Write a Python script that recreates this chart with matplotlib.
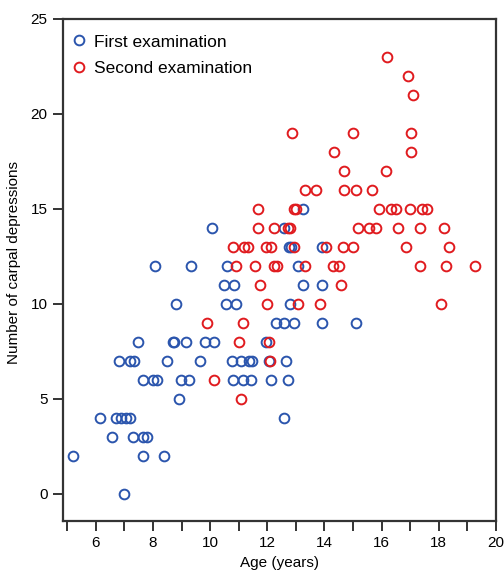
import matplotlib
matplotlib.use("Agg")
from matplotlib import pyplot as plt
from matplotlib.ticker import MultipleLocator, FuncFormatter

plt.rcParams['font.family'] = ['Liberation Sans', 'DejaVu Sans']

# first examination (age in years, number of carpal depressions)
first_age = [5.2, 6.14, 6.55, 6.72, 6.81, 6.88, 6.98, 7.04, 7.19, 7.2, 7.3, 7.33, 7.49,
             7.65, 7.65, 7.66, 7.78, 8.0, 8.07, 8.15, 8.4, 8.49, 8.69, 8.74, 8.8, 8.9,
             8.97, 9.15, 9.26, 9.32, 9.65, 9.82, 10.06, 10.15, 10.47, 10.55, 10.6, 10.76,
             10.8, 10.82, 10.91, 11.09, 11.15, 11.35, 11.43, 11.46, 11.96, 12.05, 12.14,
             12.32, 12.57, 12.6, 12.6, 12.66, 12.72, 12.75, 12.81, 12.83, 12.92, 13.06,
             13.25, 13.25, 13.92, 13.92, 13.92, 15.1]
first_count = [2, 4, 3, 4, 7, 4, 0, 4, 7, 4, 3, 7, 8,
               6, 2, 3, 3, 6, 12, 6, 2, 7, 8, 8, 10, 5,
               6, 8, 6, 12, 7, 8, 14, 8, 11, 10, 12, 7,
               6, 11, 10, 7, 6, 7, 6, 7, 8, 7, 6,
               9, 9, 14, 4, 7, 6, 13, 10, 13, 9, 12,
               15, 11, 13, 11, 9, 9]

# second examination
second_age = [9.9, 10.13, 10.8, 10.91, 11.0, 11.08, 11.15, 11.17, 11.32, 11.58, 11.66,
              11.66, 11.73, 11.96, 11.99, 12.05, 12.1, 12.12, 12.22, 12.25, 12.34, 12.71,
              12.8, 12.87, 12.92, 12.92, 13.02, 13.06, 13.31, 13.33, 13.72, 13.84, 14.06,
              14.29, 14.33, 14.5, 14.59, 14.66, 14.68, 14.68, 15.0, 15.0, 15.1, 15.18,
              15.56, 15.67, 15.82, 15.91, 16.16, 16.18, 16.32, 16.49, 16.57, 16.84, 16.92,
              17.0, 17.02, 17.02, 17.1, 17.34, 17.34, 17.4, 17.6, 18.09, 18.19, 18.25,
              18.36, 19.26]
second_count = [9, 6, 13, 12, 8, 5, 9, 13, 13, 12, 15,
                14, 11, 13, 10, 8, 7, 13, 12, 14, 12, 14,
                14, 19, 15, 13, 15, 10, 12, 16, 16, 10, 13,
                12, 18, 12, 11, 13, 16, 17, 19, 13, 16, 14,
                14, 16, 14, 15, 17, 23, 15, 15, 14, 13, 22,
                15, 19, 18, 21, 14, 12, 15, 15, 10, 14, 12,
                13, 12]

blue = '#2b55ad'
red = '#e01b1f'
spine_col = '#333333'

fig = plt.figure(figsize=(5.04, 5.75), dpi=100)
ax = fig.add_axes([0.125, 0.094, 0.859, 0.873])

ax.plot(first_age, first_count, 'o', ls='none', mfc='none', mec=blue, ms=7, mew=1.4,
        label='First examination')
ax.plot(second_age, second_count, 'o', ls='none', mfc='none', mec=red, ms=7, mew=1.4,
        label='Second examination')

ax.set_xlim(4.85, 20)
ax.set_ylim(-1.42, 25)
ax.xaxis.set_major_locator(MultipleLocator(1))
ax.xaxis.set_major_formatter(FuncFormatter(lambda v, p: '%d' % v if int(round(v)) % 2 == 0 else ''))
ax.yaxis.set_major_locator(MultipleLocator(5))

for s in ax.spines.values():
    s.set_color(spine_col)
    s.set_linewidth(1.6)
ax.tick_params(direction='out', length=7, width=1.4, color=spine_col, labelsize=11, pad=4)

ax.set_xlabel('Age (years)', fontsize=11, labelpad=4)
ax.set_ylabel('Number of carpal depressions', fontsize=11, labelpad=2)
ax.yaxis.set_label_coords(-0.098, 0.515)

ax.legend(loc='upper left', bbox_to_anchor=(0.0, 0.99), frameon=False, fontsize=12.5,
          handlelength=0.7, handletextpad=0.5, borderaxespad=0.3, labelspacing=0.66,
          borderpad=0.3)

fig.savefig('out.png', dpi=100)
